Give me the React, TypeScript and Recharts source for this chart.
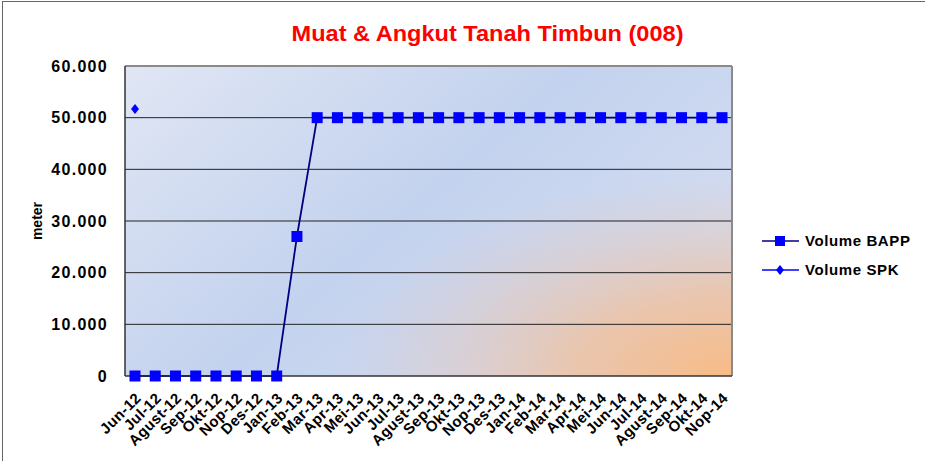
import React from "react";
import { CartesianGrid, Legend, Line, LineChart, XAxis, YAxis } from "recharts";

const months = [
  "Jun-12", "Jul-12", "Agust-12", "Sep-12", "Okt-12", "Nop-12", "Des-12", "Jan-13",
  "Feb-13", "Mar-13", "Apr-13", "Mei-13", "Jun-13", "Jul-13", "Agust-13", "Sep-13",
  "Okt-13", "Nop-13", "Des-13", "Jan-14", "Feb-14", "Mar-14", "Apr-14", "Mei-14",
  "Jun-14", "Jul-14", "Agust-14", "Sep-14", "Okt-14", "Nop-14",
];

const volumeBapp = [
  0, 0, 0, 0, 0, 0, 0, 0, 27000, 50000, 50000, 50000, 50000, 50000, 50000, 50000,
  50000, 50000, 50000, 50000, 50000, 50000, 50000, 50000, 50000, 50000, 50000, 50000, 50000, 50000,
];

const volumeSpk: (number | null)[] = [51700];

const yTicks = [0, 10000, 20000, 30000, 40000, 50000, 60000];

const data = months.map((m, i) => ({
  month: m,
  bapp: volumeBapp[i],
  spk: volumeSpk[i] ?? null,
}));

const fmt = (v: number) => (v === 0 ? "0" : v.toLocaleString("de-DE"));

const FONT = "Arial, 'Liberation Sans', sans-serif";

function SquareDot(props: any) {
  const { cx, cy } = props;
  if (cx == null || cy == null) return null;
  return <rect x={cx - 5.5} y={cy - 5.5} width={11} height={11} fill="#0000ff" />;
}

function DiamondDot(props: any) {
  const { cx, cy, value } = props;
  if (cx == null || cy == null || value == null) return null;
  return (
    <path d={`M${cx},${cy - 5} L${cx + 4},${cy} L${cx},${cy + 5} L${cx - 4},${cy} Z`} fill="#0000ff" />
  );
}

function XTick(props: any) {
  const { x, y, payload } = props;
  const tx = x + 7;
  const ty = y + 15;
  return (
    <text
      x={tx}
      y={ty}
      textAnchor="end"
      fontFamily={FONT}
      fontWeight="bold"
      fontSize={15}
      letterSpacing={0.4}
      fill="#000"
      transform={`rotate(-45, ${tx}, ${ty})`}
    >
      {payload.value}
    </text>
  );
}

function LegendContent() {
  const items = [
    { label: "Volume BAPP", color: "#000080", shape: "square" },
    { label: "Volume SPK", color: "#0000ff", shape: "diamond" },
  ];
  return (
    <div style={{ fontFamily: FONT, fontWeight: "bold", fontSize: 15, letterSpacing: 0.6 }}>
      {items.map((it) => (
        <div key={it.label} style={{ display: "flex", alignItems: "center", height: 29 }}>
          <svg width={40} height={14} style={{ marginRight: 3 }}>
            <line x1={0} y1={7} x2={37} y2={7} stroke={it.color} strokeWidth={1.5} />
            {it.shape === "square" ? (
              <rect x={13} y={2} width={10} height={10} fill="#0000ff" />
            ) : (
              <path d="M18,2 L22,7 L18,12 L14,7 Z" fill="#0000ff" />
            )}
          </svg>
          <span>{it.label}</span>
        </div>
      ))}
    </div>
  );
}

export default function App() {
  return (
    <div style={{ position: "fixed", left: 0, top: 0, width: 925, height: 461, background: "#fff", overflow: "hidden" }}>
      <svg width={0} height={0} style={{ position: "absolute" }}>
        <defs>
          <linearGradient id="bgLin" x1="0" y1="0" x2="1" y2="0.6">
            <stop offset="0" stopColor="#e0e6f4" />
            <stop offset="0.55" stopColor="#c3d2ee" />
            <stop offset="1" stopColor="#d4ddf1" />
          </linearGradient>
          <radialGradient id="bgRad" cx="1" cy="1" r="0.65">
            <stop offset="0" stopColor="#f8bb86" stopOpacity={1} />
            <stop offset="0.4" stopColor="#ecc3a6" stopOpacity={0.9} />
            <stop offset="1" stopColor="#dcc8c8" stopOpacity={0} />
          </radialGradient>
        </defs>
      </svg>
      <div
        style={{
          position: "absolute",
          left: 2,
          top: 1,
          right: -2,
          bottom: -2,
          borderLeft: "1px solid #666",
          borderTop: "1px solid #666",
        }}
      />
      <div
        style={{
          position: "absolute",
          left: 0,
          top: 21,
          width: 975,
          textAlign: "center",
          fontFamily: FONT,
          fontWeight: "bold",
          fontSize: 22,
          color: "#ff0000",
          transform: "scaleX(1.07)",
          transformOrigin: "487px 0",
        }}
      >
        Muat &amp; Angkut Tanah Timbun (008)
      </div>
      <LineChart
        width={925}
        height={461}
        data={data}
        margin={{ top: 66, right: 28, bottom: 0, left: 45 }}
        style={{ position: "absolute", left: 0, top: 0 }}
      >
        <CartesianGrid fill="url(#bgLin)" stroke="none" horizontal={false} vertical={false} />
        <CartesianGrid
          fill="url(#bgRad)"
          stroke="#222"
          strokeWidth={1}
          vertical={false}
          horizontalCoordinatesGenerator={(p: any) => {
            const { offset } = p;
            return [1, 2, 3, 4, 5].map((k) => offset.top + offset.height - (offset.height * k) / 6);
          }}
        />
        <CartesianGrid
          fill="none"
          stroke="#8a8a8a"
          strokeWidth={2}
          horizontalCoordinatesGenerator={(p: any) => [p.offset.top]}
          verticalCoordinatesGenerator={(p: any) => [p.offset.left + p.offset.width]}
        />
        <XAxis
          dataKey="month"
          interval={0}
          padding={{ left: 10, right: 10 }}
          height={85}
          tick={<XTick />}
          tickLine={false}
          axisLine={{ stroke: "#333", strokeWidth: 1.5 }}
        />
        <YAxis
          domain={[0, 60000]}
          ticks={yTicks}
          width={80}
          tickFormatter={fmt}
          tickLine={false}
          tickSize={0}
          tickMargin={17}
          axisLine={{ stroke: "#333", strokeWidth: 1.5 }}
          tick={{ fontFamily: FONT, fontWeight: "bold", fontSize: 16, fill: "#000", letterSpacing: 1.3 }}
          label={{
            value: "meter",
            angle: -90,
            position: "insideLeft",
            offset: -8,
            style: { fontFamily: FONT, fontWeight: "bold", fontSize: 14, fill: "#000", textAnchor: "middle" },
          }}
        />
        <Legend
          layout="vertical"
          align="right"
          verticalAlign="middle"
          content={<LegendContent />}
          wrapperStyle={{ width: 165, left: 762, top: 226 }}
        />
        <Line
          dataKey="bapp"
          name="Volume BAPP"
          stroke="#000080"
          strokeWidth={1.8}
          dot={<SquareDot />}
          activeDot={false}
          isAnimationActive={false}
        />
        <Line
          dataKey="spk"
          name="Volume SPK"
          stroke="#0000ff"
          strokeWidth={1.5}
          dot={<DiamondDot />}
          activeDot={false}
          connectNulls={false}
          isAnimationActive={false}
        />
      </LineChart>
    </div>
  );
}
